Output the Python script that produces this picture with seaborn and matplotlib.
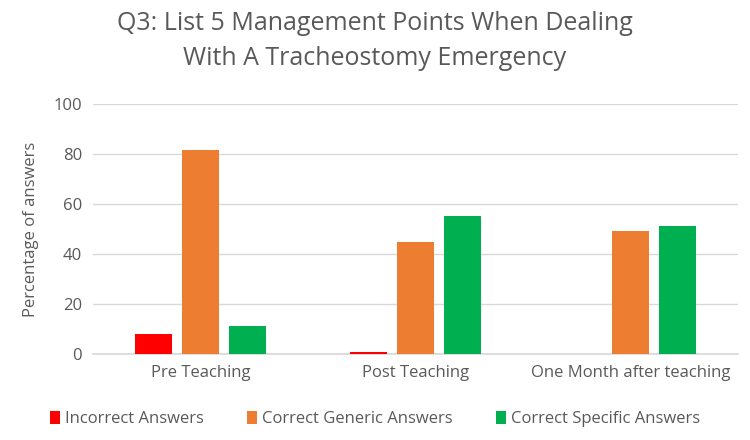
import numpy as np
import pandas as pd
import matplotlib
matplotlib.use("Agg")
import matplotlib.pyplot as plt
import seaborn as sns

# values
stages = ["Pre Teaching", "Post Teaching", "One Month after teaching"]
series = ["Incorrect Answers", "Correct Generic Answers", "Correct Specific Answers"]
incorrect = [7.9, 1.0, 0.0]
generic = [81.8, 44.8, 49.3]
specific = [11.3, 55.3, 51.4]
colors = ["#ff0000", "#ed7d31", "#00b050"]

df = pd.DataFrame({
    "stage": stages * 3,
    "series": np.repeat(series, 3),
    "value": incorrect + generic + specific,
})

sns.set_theme(style="white")
plt.rcParams["font.family"] = ["Open Sans", "DejaVu Sans"]
text_col = "#595959"

fig = plt.figure(figsize=(7.5, 4.4), dpi=100)
ax = fig.add_axes([0.124, 0.195, 0.86, 0.568])

sns.barplot(data=df, x="stage", y="value", hue="series", palette=colors,
            width=0.656, gap=0.21, saturation=1, ax=ax, legend=True)
for p in ax.patches:
    p.set_zorder(3)
    p.set_edgecolor("none")

ax.set_ylim(0, 100)
ax.set_yticks(range(0, 101, 20))
ax.yaxis.grid(True, color="#d9d9d9", linewidth=1)
ax.set_axisbelow(True)
for s in ["top", "right", "left"]:
    ax.spines[s].set_visible(False)
ax.spines["bottom"].set_color("#d9d9d9")
ax.spines["bottom"].set_zorder(1)
ax.tick_params(axis="both", length=0, labelsize=12, labelcolor=text_col, pad=8)
ax.set_xlabel("")
ax.set_ylabel("Percentage of answers", fontsize=12, color=text_col, labelpad=10)

fig.suptitle("Q3: List 5 Management Points When Dealing\nWith A Tracheostomy Emergency",
             fontsize=18, color=text_col, y=0.975, linespacing=1.55)

handles, labels = ax.get_legend_handles_labels()
ax.legend_.remove()
fig.legend(handles, labels, loc="lower center", bbox_to_anchor=(0.5, -0.005), ncol=3,
           frameon=False, fontsize=12, labelcolor=text_col, handlelength=0.6,
           handleheight=0.8, handletextpad=0.3, columnspacing=2.6)

fig.savefig("out.png", dpi=100)
